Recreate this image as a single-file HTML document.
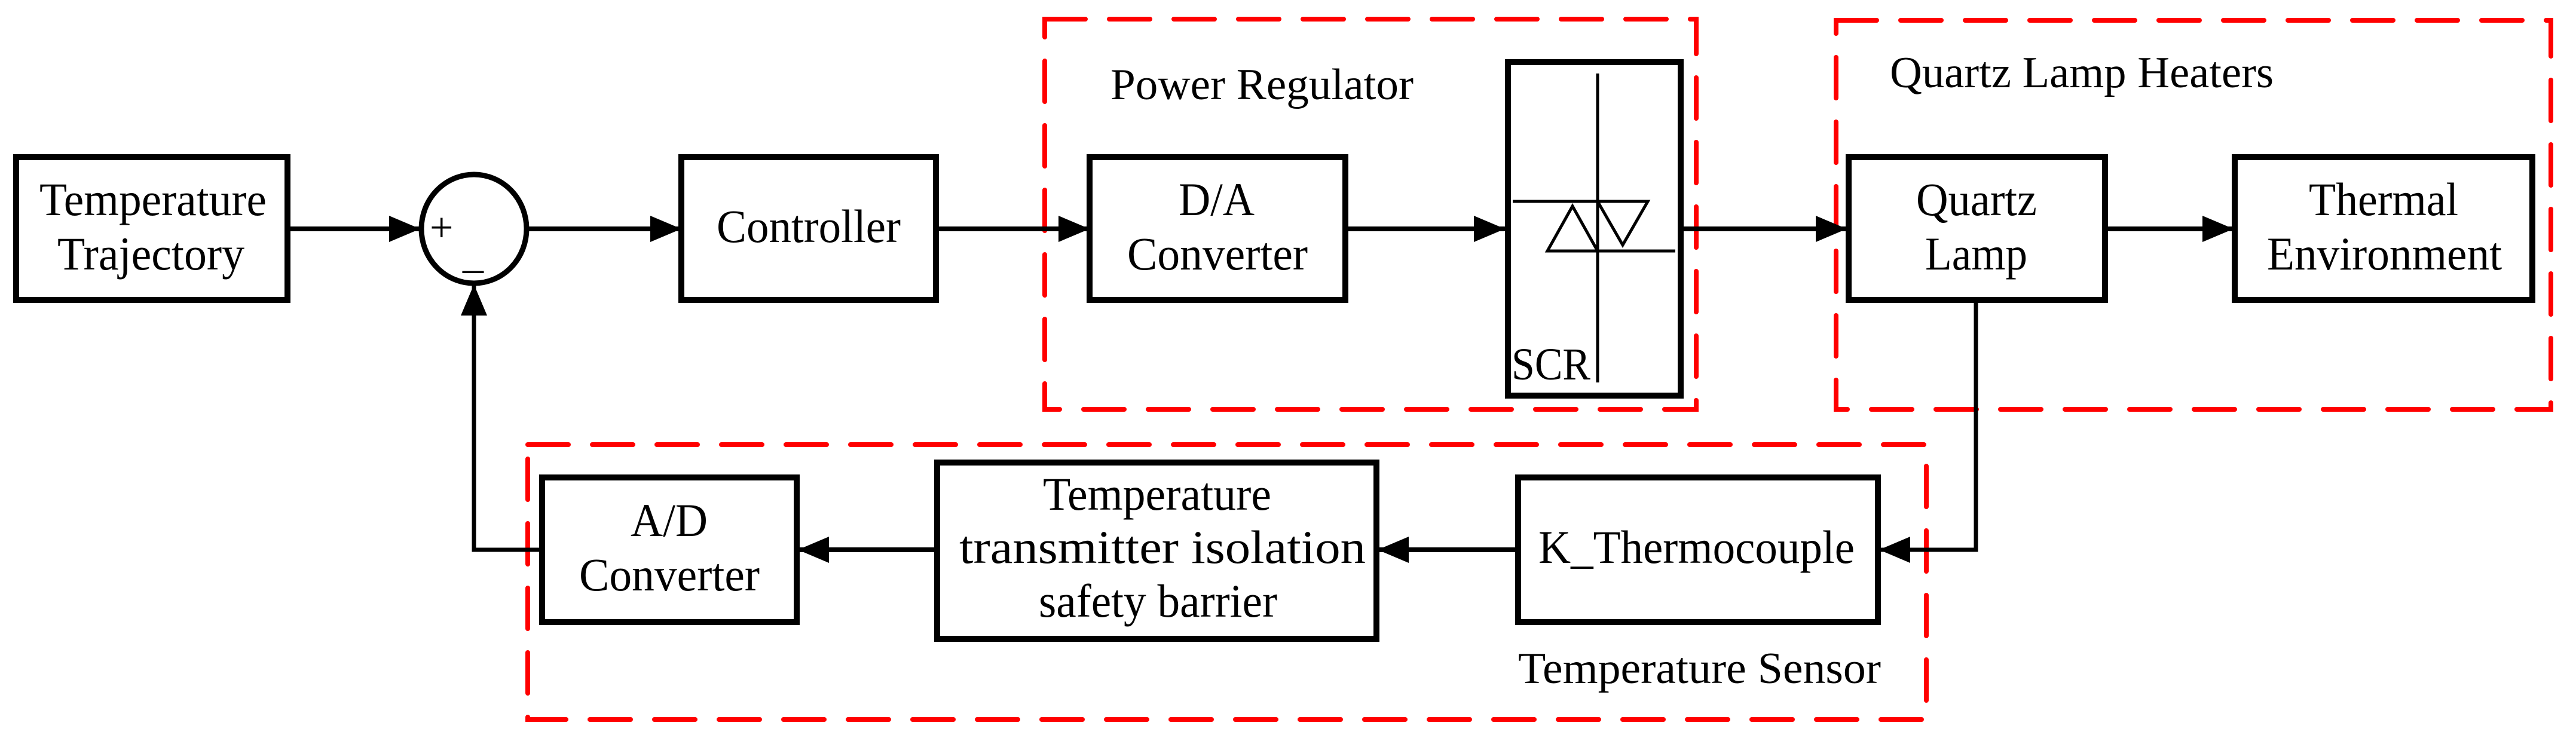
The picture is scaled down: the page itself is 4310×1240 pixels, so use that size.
<!DOCTYPE html>
<html><head><meta charset="utf-8"><style>
html,body{margin:0;padding:0;background:#fff;}
svg{display:block;}
svg text{font-family:"Liberation Serif","DejaVu Serif",serif;}
</style></head><body>
<svg width="4310" height="1240" viewBox="0 0 4310 1240" xmlns="http://www.w3.org/2000/svg">
<defs>
<marker id="ah" markerUnits="userSpaceOnUse" markerWidth="60" markerHeight="50" refX="52" refY="22" orient="auto">
<path d="M0,0 L52,22 L0,44 Z" fill="#000"/>
</marker>
</defs>
<g fill="none" stroke="#ff0000" stroke-width="8" stroke-dasharray="68,40" stroke-linecap="round">
<rect x="1748" y="32" width="1090" height="653"/>
<rect x="3072" y="34" width="1196" height="651"/>
<rect x="883" y="744" width="2340" height="460"/>
</g>
<g fill="none" stroke="#000" stroke-width="10">
<rect x="27" y="263" width="454" height="239"/>
<ellipse cx="793" cy="383" rx="88" ry="91" stroke-width="9"/>
<rect x="1140" y="263" width="426" height="239"/>
<rect x="1823" y="263" width="428" height="239"/>
<rect x="2523" y="104" width="289" height="558"/>
<rect x="3093" y="263" width="429" height="239"/>
<rect x="3739" y="263" width="498" height="239"/>
<rect x="907" y="799" width="426" height="242"/>
<rect x="1568" y="774" width="735" height="295"/>
<rect x="2540" y="799" width="602" height="242"/>
</g>
<g fill="none" stroke="#000" stroke-width="5">
<line x1="2673" y1="123" x2="2673" y2="640"/>
<line x1="2531" y1="337" x2="2673" y2="337"/>
<path d="M2673,337 L2757,337 L2715,410 Z"/>
<path d="M2631,345 L2589,420 L2673,420 Z"/>
<line x1="2673" y1="420" x2="2803" y2="420"/>
</g>
<g fill="none" stroke="#000" stroke-width="8">
<line x1="481" y1="383" x2="703" y2="383" marker-end="url(#ah)"/>
<line x1="883" y1="383" x2="1140" y2="383" marker-end="url(#ah)"/>
<line x1="1566" y1="383" x2="1823" y2="383" marker-end="url(#ah)"/>
<line x1="2251" y1="383" x2="2518" y2="383" marker-end="url(#ah)"/>
<line x1="2812" y1="383" x2="3090" y2="383" marker-end="url(#ah)"/>
<line x1="3522" y1="383" x2="3737" y2="383" marker-end="url(#ah)"/>
<polyline points="3306,502 3306,920 3144,920" marker-end="url(#ah)" stroke-width="7"/>
<line x1="2540" y1="920" x2="2305" y2="920" marker-end="url(#ah)"/>
<line x1="1568" y1="920" x2="1335" y2="920" marker-end="url(#ah)"/>
<polyline points="907,920 793,920 793,476" marker-end="url(#ah)" stroke-width="7"/>
</g>
<g font-family="Liberation Serif, DejaVu Serif, serif" font-size="78" fill="#000">
<text x="66" y="360" textLength="380" lengthAdjust="spacingAndGlyphs">Temperature</text>
<text x="96" y="451" textLength="313" lengthAdjust="spacingAndGlyphs">Trajectory</text>
<text x="1199" y="405" textLength="308" lengthAdjust="spacingAndGlyphs">Controller</text>
<text x="1972" y="360" textLength="127" lengthAdjust="spacingAndGlyphs">D/A</text>
<text x="1886" y="451" textLength="302" lengthAdjust="spacingAndGlyphs">Converter</text>
<text x="3206" y="360" textLength="202" lengthAdjust="spacingAndGlyphs">Quartz</text>
<text x="3221" y="451" textLength="171" lengthAdjust="spacingAndGlyphs">Lamp</text>
<text x="3863" y="360" textLength="250" lengthAdjust="spacingAndGlyphs">Thermal</text>
<text x="3793" y="451" textLength="393" lengthAdjust="spacingAndGlyphs">Environment</text>
<text x="1055" y="897" textLength="129" lengthAdjust="spacingAndGlyphs">A/D</text>
<text x="969" y="988" textLength="302" lengthAdjust="spacingAndGlyphs">Converter</text>
<text x="1745" y="853" textLength="382" lengthAdjust="spacingAndGlyphs">Temperature</text>
<text x="1605" y="942" textLength="680" lengthAdjust="spacingAndGlyphs">transmitter isolation</text>
<text x="1738" y="1032" textLength="399" lengthAdjust="spacingAndGlyphs">safety barrier</text>
<text x="2574" y="942" textLength="529" lengthAdjust="spacingAndGlyphs">K_Thermocouple</text>
<text x="1858" y="166" font-size="74" textLength="507" lengthAdjust="spacingAndGlyphs">Power Regulator</text>
<text x="3162" y="146" font-size="74" textLength="642" lengthAdjust="spacingAndGlyphs">Quartz Lamp Heaters</text>
<text x="2540" y="1143" font-size="74" textLength="607" lengthAdjust="spacingAndGlyphs">Temperature Sensor</text>
<text x="2529" y="635" font-size="76" textLength="132" lengthAdjust="spacingAndGlyphs">SCR</text>
<text x="719" y="404" font-size="70">+</text>
<text x="774" y="448" font-size="70">_</text>
</g>
</svg>
</body></html>
